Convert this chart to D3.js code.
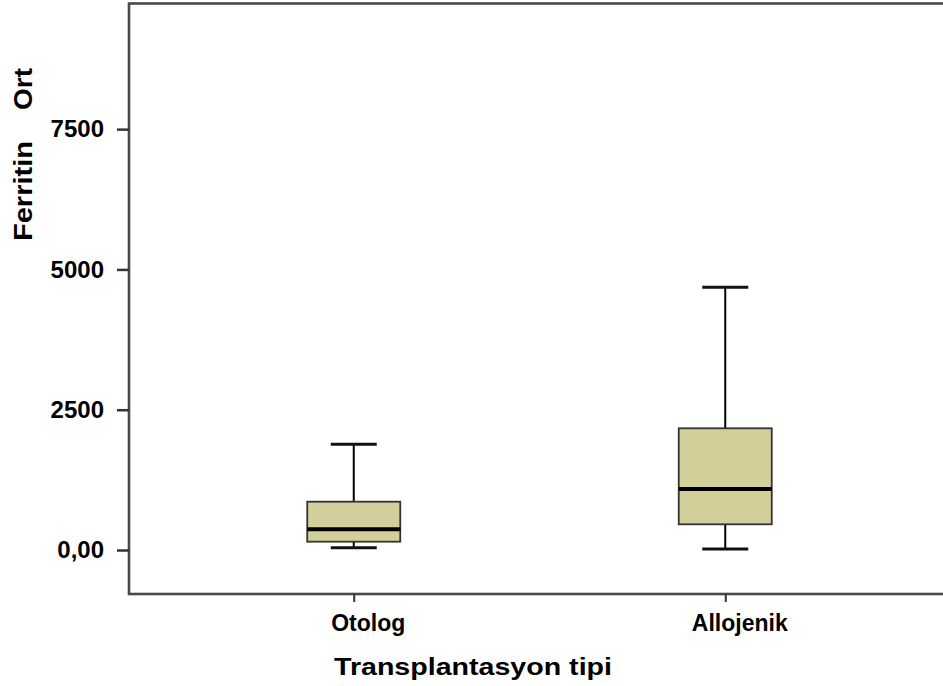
<!DOCTYPE html>
<html>
<head>
<meta charset="utf-8">
<script src="https://cdn.jsdelivr.net/npm/d3@7"></script>
<style>
  html, body { margin: 0; padding: 0; background: #fff; }
  svg { display: block; }
  text { font-family: "Liberation Sans", Arial, sans-serif; font-weight: bold; fill: #000; }
</style>
</head>
<body>
<svg id="chart" width="943" height="686"></svg>
<script>
// Ferritin by transplant type: box-plot summaries
const categories = ["Otolog", "Allojenik"];
const whiskerLow  = [41, 18];
const q1          = [148, 458];
const median      = [369, 1087];
const q3          = [861, 2169];
const whiskerHigh = [1884, 4681];
const yTicks = [0, 2500, 5000, 7500];
const yTickLabels = ["0,00", "2500", "5000", "7500"];
const yTitleWords = ["Ferritin", "Ort"];

const svg = d3.select("#chart");
const frame = { left: 129, top: 3.5, bottom: 594, right: 946 };

const y = d3.scaleLinear().domain([-784, 9739]).range([frame.bottom, frame.top]);
const x = d3.scalePoint().domain(categories).range([168, 911]).padding(0.5);

const boxW = 93, capW = 46;
const fill = "#d3cf9a";

// plot frame
svg.append("rect")
  .attr("x", frame.left).attr("y", frame.top)
  .attr("width", frame.right - frame.left).attr("height", frame.bottom - frame.top)
  .attr("fill", "none").attr("stroke", "#484848").attr("stroke-width", 2.6);

// y axis
const yAxis = d3.axisLeft(y).tickValues(yTicks)
  .tickFormat((d, i) => yTickLabels[i]).tickSize(12).tickPadding(13);
const gy = svg.append("g").attr("transform", `translate(${frame.left},0)`).call(yAxis);
gy.select(".domain").remove();
gy.selectAll(".tick line").attr("stroke", "#333").attr("stroke-width", 2.5);
gy.selectAll(".tick text").attr("font-size", 24).attr("fill", "#111");

// x axis
const xAxis = d3.axisBottom(x).tickSize(8).tickPadding(13);
const gx = svg.append("g").attr("transform", `translate(0,${frame.bottom})`).call(xAxis);
gx.select(".domain").remove();
gx.selectAll(".tick line").attr("stroke", "#333").attr("stroke-width", 2);
gx.selectAll(".tick text").attr("font-size", 23).attr("dx", 14).attr("fill", "#111");

// axis titles
svg.append("text")
  .attr("x", 334).attr("y", 675)
  .attr("font-size", 24)
  .attr("textLength", 278).attr("lengthAdjust", "spacingAndGlyphs")
  .text("Transplantasyon tipi");

// vertical title: two words with a wide gap between them
const yTitleSpans = [{ start: 241, len: 100 }, { start: 110, len: 42 }];
svg.append("g").selectAll("text").data(yTitleWords).join("text")
  .attr("transform", "translate(32,0) rotate(-90)")
  .attr("x", (d, i) => -yTitleSpans[i].start)
  .attr("font-size", 25)
  .attr("textLength", (d, i) => yTitleSpans[i].len)
  .attr("lengthAdjust", "spacingAndGlyphs")
  .text(d => d);

// boxes
const boxes = svg.append("g").selectAll("g").data(categories).join("g");
boxes.each(function(c, i) {
  const g = d3.select(this);
  const cx = x(c);
  // whisker stems
  g.append("line").attr("x1", cx).attr("x2", cx)
    .attr("y1", y(whiskerHigh[i])).attr("y2", y(q3[i]))
    .attr("stroke", "#000").attr("stroke-width", 2);
  g.append("line").attr("x1", cx).attr("x2", cx)
    .attr("y1", y(q1[i])).attr("y2", y(whiskerLow[i]))
    .attr("stroke", "#000").attr("stroke-width", 2);
  // caps
  [whiskerHigh[i], whiskerLow[i]].forEach(v => {
    g.append("line").attr("x1", cx - capW / 2).attr("x2", cx + capW / 2)
      .attr("y1", y(v)).attr("y2", y(v))
      .attr("stroke", "#111").attr("stroke-width", 3);
  });
  // box
  g.append("rect")
    .attr("x", cx - boxW / 2).attr("width", boxW)
    .attr("y", y(q3[i])).attr("height", y(q1[i]) - y(q3[i]))
    .attr("fill", fill).attr("stroke", "#333").attr("stroke-width", 1.8);
  // median
  g.append("line").attr("x1", cx - boxW / 2).attr("x2", cx + boxW / 2)
    .attr("y1", y(median[i])).attr("y2", y(median[i]))
    .attr("stroke", "#000").attr("stroke-width", 4);
});
</script>
</body>
</html>
